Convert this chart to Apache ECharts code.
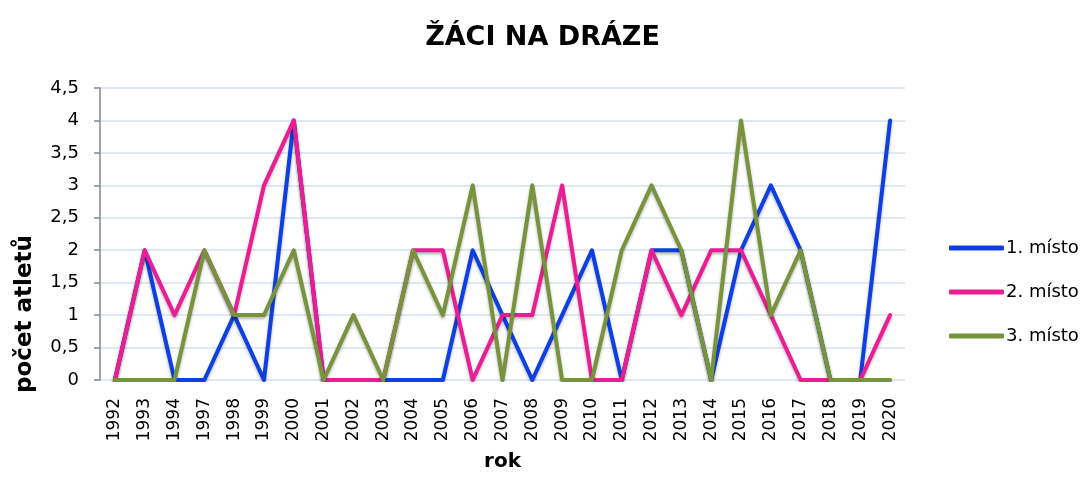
<!DOCTYPE html>
<html>
<head>
<meta charset="utf-8">
<script src="https://cdn.jsdelivr.net/npm/echarts@6/dist/echarts.min.js"></script>
<style>
  html, body { margin: 0; padding: 0; background: #fff; }
  #main { width: 1085px; height: 479px; }
</style>
</head>
<body>
<div id="main"></div>
<script>
var years = ['1992', '1993', '1994', '1997', '1998', '1999', '2000', '2001', '2002', '2003',
	'2004', '2005', '2006', '2007', '2008', '2009', '2010', '2011', '2012', '2013',
	'2014', '2015', '2016', '2017', '2018', '2019', '2020'];
var prvni = [0, 2, 0, 0, 1, 0, 4, 0, 0, 0, 0, 0, 2, 1, 0, 1, 2, 0, 2, 2, 0, 2, 3, 2, 0, 0, 4];
var druhe = [0, 2, 1, 2, 1, 3, 4, 0, 0, 0, 2, 2, 0, 1, 1, 3, 0, 0, 2, 1, 2, 2, 1, 0, 0, 0, 1];
var treti = [0, 0, 0, 2, 1, 1, 2, 0, 1, 0, 2, 1, 3, 0, 3, 0, 0, 2, 3, 2, 0, 4, 1, 2, 0, 0, 0];
var seriesNames = ['1. místo', '2. místo', '3. místo'];
var colors = ['#0d3fe3', '#ea1d94', '#77933c'];

var chartDom = document.getElementById('main');
var myChart = echarts.init(chartDom);
var font = 'DejaVu Sans';

function makeLine(name, data, color) {
	return {
		name: name, type: 'line', data: data, symbol: 'none',
		color: color,
		lineStyle: {width: 4, color: color, cap: 'round', join: 'round',
			shadowBlur: 3, shadowColor: 'rgba(0,0,0,0.3)', shadowOffsetY: 2},
		z: 3
	};
}

var option = {
	animation: false,
	title: {
		text: 'ŽÁCI NA DRÁZE', left: 'center', top: 19,
		textStyle: {fontFamily: font, fontSize: 27, fontWeight: 'bold', color: '#000'}
	},
	legend: {
		orient: 'vertical', left: 944, top: 234, itemWidth: 55, itemHeight: 5, itemGap: 26,
		icon: 'roundRect',
		textStyle: {fontFamily: font, fontSize: 18, color: '#000', padding: [0, 0, 0, -3]},
		data: seriesNames
	},
	grid: {left: 100, right: 180, top: 88, bottom: 99},
	xAxis: {
		type: 'category', data: years, boundaryGap: true,
		name: 'rok', nameLocation: 'middle', nameGap: 72,
		nameTextStyle: {fontFamily: font, fontSize: 20, fontWeight: 'bold', color: '#000'},
		axisLine: {show: false}, axisTick: {show: false},
		axisLabel: {rotate: 90, margin: 18, fontFamily: font, fontSize: 17, color: '#000', interval: 0}
	},
	yAxis: {
		type: 'value', min: 0, max: 4.5, interval: 0.5,
		axisLine: {show: true, lineStyle: {color: '#868686', width: 1.5}},
		axisTick: {show: true, length: 6, lineStyle: {color: '#868686', width: 1.5}},
		axisLabel: {margin: 21, fontFamily: font, fontSize: 18, color: '#000',
			formatter: function (v) { return String(v).replace('.', ','); }},
		splitLine: {show: true, lineStyle: {color: '#d5e0f1', width: 1.5}}
	},
	graphic: [{
		type: 'text', x: 25, y: 314, rotation: Math.PI / 2,
		style: {text: 'počet atletů', font: 'bold 23px "DejaVu Sans"', fill: '#000',
			align: 'center', verticalAlign: 'middle'}
	}],
	series: [
		makeLine(seriesNames[0], prvni, colors[0]),
		makeLine(seriesNames[1], druhe, colors[1]),
		makeLine(seriesNames[2], treti, colors[2])
	]
};
option && myChart.setOption(option);
</script>
</body>
</html>
